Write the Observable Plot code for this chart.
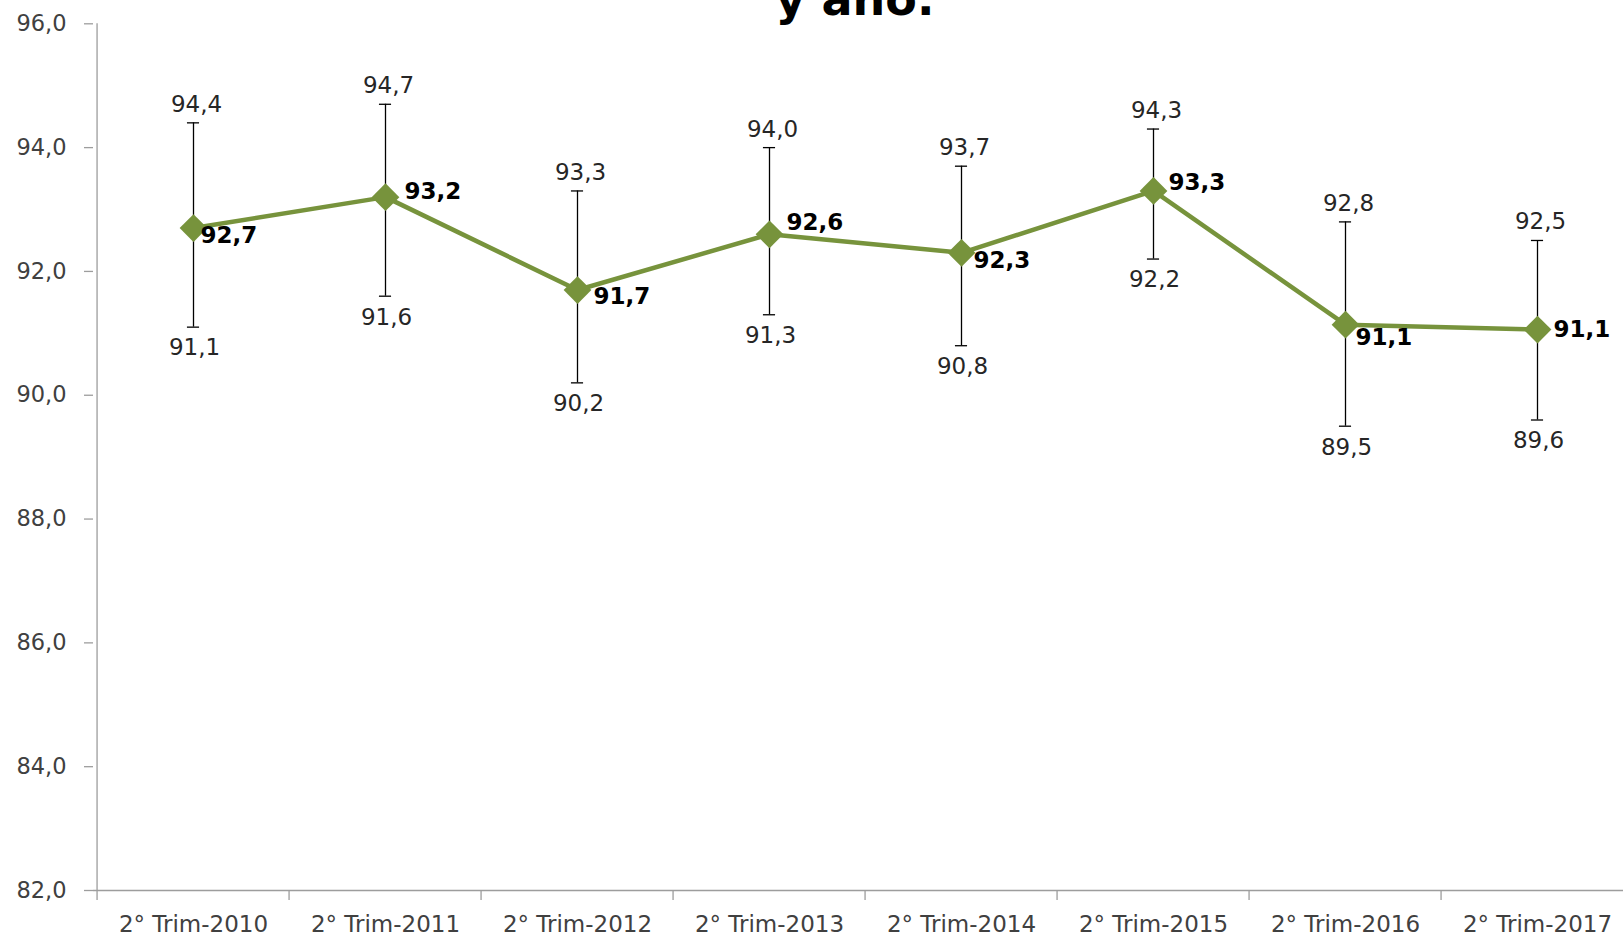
<!DOCTYPE html>
<html>
<head>
<meta charset="utf-8">
<script src="https://cdn.jsdelivr.net/npm/d3@7"></script>
<script src="https://cdn.jsdelivr.net/npm/@observablehq/plot@0.6"></script>
<style>
  html, body { margin: 0; padding: 0; background: #fff; overflow: hidden; }
  #wrap { position: relative; width: 1623px; height: 938px; overflow: hidden; }
  #title { position: absolute; top: -24px; left: 0; width: 1710px; text-align: center;
           font-family: "DejaVu Sans", sans-serif; font-weight: 700; font-size: 46px;
           line-height: 1; color: #000; z-index: 2; white-space: nowrap; }
  #chart svg { display: block; max-width: none !important; width: 1636px !important; height: 938px !important; }
</style>
</head>
<body>
<div id="wrap">
  <div id="title">y año.</div>
  <div id="chart"></div>
</div>
<script>
// ---- data ----
const categories = ["2° Trim-2010", "2° Trim-2011", "2° Trim-2012", "2° Trim-2013",
                    "2° Trim-2014", "2° Trim-2015", "2° Trim-2016", "2° Trim-2017"];
const estimate = [92.7, 93.2, 91.7, 92.6, 92.3, 93.3, 91.14, 91.06];
const upper    = [94.4, 94.7, 93.3, 94.0, 93.7, 94.3, 92.8, 92.5];
const lower    = [91.1, 91.6, 90.2, 91.3, 90.8, 92.2, 89.5, 89.6];
const yTicks   = [82, 84, 86, 88, 90, 92, 94, 96];

// label nudges (layout only)
const labelDx = [7, 19, 16, 17, 12, 15, 10, 16];
const labelDy = [8, -6, 7, -12, 8, -8, 13, 0];

const data = categories.map((c, i) => ({cat: c, val: estimate[i], hi: upper[i], lo: lower[i]}));
const fmt = v => d3.format(".1f")(v).replace(".", ",");

const W = 1636, H = 938, ML = 93, MR = 0, MT = 23.3, MB = 48;
const bw = (W - ML - MR) / categories.length;
const green = "#77933C", gray = "#9D9D9D", txt = "#404040";
const font = "'DejaVu Sans', sans-serif";

const valueLabels = data.map((d, i) => Plot.text([d], {
  x: "cat", y: "val", text: dd => fmt(dd.val), textAnchor: "start",
  dx: labelDx[i], dy: labelDy[i], fontWeight: "bold", fontSize: 23, fill: "#000"
}));

const chart = Plot.plot({
  width: W, height: H,
  marginLeft: ML, marginRight: MR, marginTop: MT, marginBottom: MB,
  style: {fontFamily: font, fontSize: "22.5px", background: "#fff", overflow: "visible"},
  x: {type: "band", domain: categories, padding: 0, label: null},
  y: {domain: [82, 96], label: null},
  marks: [
    Plot.ruleY([82], {stroke: gray, strokeWidth: 1.3}),
    Plot.ruleX([categories[0]], {dx: -bw / 2, stroke: gray, strokeWidth: 1.3}),
    Plot.axisY({ticks: yTicks, text: null, tickSize: 9, stroke: gray, strokeWidth: 1.3}),
    Plot.axisY({ticks: yTicks, tickFormat: fmt, tickSize: 9, tickPadding: 18, stroke: "none", fill: txt, fontSize: 22.5}),
    Plot.axisX({text: null, tickSize: 10, dx: -bw / 2, stroke: gray, strokeWidth: 1.3}),
    Plot.axisX({tickSize: 0, tickPadding: 25, fill: txt, fontSize: 23}),
    // error bars
    Plot.ruleX(data, {x: "cat", y1: "lo", y2: "hi", stroke: "#000", strokeWidth: 1.3}),
    Plot.tickY(data, {x: "cat", y: "hi", stroke: "#000", strokeWidth: 1.3, insetLeft: (bw - 13) / 2, insetRight: (bw - 13) / 2}),
    Plot.tickY(data, {x: "cat", y: "lo", stroke: "#000", strokeWidth: 1.3, insetLeft: (bw - 13) / 2, insetRight: (bw - 13) / 2}),
    Plot.text(data, {x: "cat", y: "hi", text: d => fmt(d.hi), lineAnchor: "bottom", dy: -11, dx: 3, fill: "#262626", fontSize: 23}),
    Plot.text(data, {x: "cat", y: "lo", text: d => fmt(d.lo), lineAnchor: "top", dy: 12, dx: 1, fill: "#262626", fontSize: 23}),
    // series
    Plot.line(data, {x: "cat", y: "val", stroke: green, strokeWidth: 4.5}),
    Plot.dot(data, {x: "cat", y: "val", symbol: "diamond2", r: 12.5, fill: green, stroke: "none"}),
    ...valueLabels
  ]
});
document.getElementById("chart").appendChild(chart);
</script>
</body>
</html>
